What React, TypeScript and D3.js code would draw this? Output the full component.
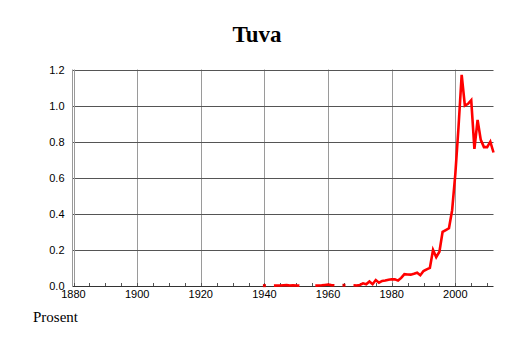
import React from "react";
import * as d3 from "d3";

const title = "Tuva";
const yAxisLabel = "Prosent";

const years: number[] = d3.range(1940, 2013);
const values: (number | null)[] = [
  // 1940-1949
  0.002, null, null, 0.002, 0.003, 0.003, 0.004, 0.005, 0.003, 0.004,
  // 1950-1959
  0.003, 0.002, null, null, null, null, 0.002, 0.003, 0.004, 0.006,
  // 1960-1969
  0.008, 0.005, 0.004, null, null, 0.004, null, null, 0.004, 0.003,
  // 1970-1979
  0.006, 0.015, 0.01, 0.025, 0.01, 0.033, 0.018, 0.028, 0.03, 0.035,
  // 1980-1989
  0.037, 0.037, 0.03, 0.045, 0.066, 0.064, 0.063, 0.068, 0.074, 0.06,
  // 1990-1999
  0.083, 0.092, 0.1, 0.2, 0.16, 0.19, 0.3, 0.31, 0.32, 0.42,
  // 2000-2009
  0.62, 0.88, 1.17, 1.0, 1.01, 1.03, 0.76, 0.92, 0.81, 0.77,
  // 2010-2012
  0.77, 0.8, 0.74,
];

const xTickLabels: number[] = [1880, 1900, 1920, 1940, 1960, 1980, 2000];
const xMinorTicks: number[] = d3.range(1880, 2013, 5);
const yTickValues: number[] = [0, 0.2, 0.4, 0.6, 0.8, 1.0, 1.2];

export default function App() {
  const W = 514;
  const H = 343;
  const left = 73.5;
  const right = 493.5;
  const top = 69.5;
  const bottom = 286;

  const x = d3.scaleLinear().domain([1880, 2012]).range([left, right]);
  const y = d3.scaleLinear().domain([0, 1.2]).range([bottom, top]);

  const data = years.map((yr, i) => ({ yr, v: values[i] }));
  const line = d3
    .line<{ yr: number; v: number | null }>()
    .defined((d) => d.v !== null)
    .x((d) => x(d.yr))
    .y((d) => y(d.v as number));

  const isolated = data.filter((d, i) => {
    if (d.v === null) return false;
    const prev = i > 0 ? data[i - 1].v : null;
    const next = i < data.length - 1 ? data[i + 1].v : null;
    return prev === null && next === null;
  });

  const sans = "'Liberation Sans', Arial, Helvetica, sans-serif";
  const serif = "'Liberation Serif', 'Times New Roman', serif";

  return (
    <svg
      width={W}
      height={H}
      style={{ position: "absolute", left: 0, top: 0 }}
    >
      <rect x={0} y={0} width={W} height={H} fill="#ffffff" />
      <text
        x={257}
        y={41.5}
        textAnchor="middle"
        fontFamily={serif}
        fontWeight="bold"
        fontSize={23}
        fill="#000"
      >
        {title}
      </text>

      {/* vertical gridlines */}
      {xTickLabels.slice(1).map((t) => (
        <line
          key={"vg" + t}
          x1={Math.round(x(t)) + 0.5}
          x2={Math.round(x(t)) + 0.5}
          y1={top}
          y2={bottom}
          stroke="#9a9a9a"
          strokeWidth={1}
        />
      ))}

      {/* horizontal gridlines */}
      {yTickValues.slice(1).map((t) => (
        <line
          key={"hg" + t}
          x1={left - 1}
          x2={right}
          y1={Math.round(y(t)) + 0.5}
          y2={Math.round(y(t)) + 0.5}
          stroke="#555555"
          strokeWidth={1}
        />
      ))}

      {/* left axis (double line) */}
      <line x1={72.5} x2={72.5} y1={top} y2={bottom} stroke="#999" strokeWidth={1} />
      <line x1={74.5} x2={74.5} y1={top} y2={bottom} stroke="#999" strokeWidth={1} />

      {/* bottom axis */}
      <line x1={left - 1} x2={right} y1={bottom + 0.5} y2={bottom + 0.5} stroke="#333" strokeWidth={1} />
      {xMinorTicks.map((t) => (
        <line
          key={"mt" + t}
          x1={Math.round(x(t)) + 0.5}
          x2={Math.round(x(t)) + 0.5}
          y1={bottom - 3}
          y2={bottom}
          stroke="#555"
          strokeWidth={1}
        />
      ))}

      {/* y tick labels */}
      {yTickValues.map((t) => (
        <text
          key={"yl" + t}
          x={64.5}
          y={y(t) + 4}
          textAnchor="end"
          fontFamily={sans}
          fontSize={11}
          fill="#000"
        >
          {t.toFixed(1)}
        </text>
      ))}

      {/* x tick labels */}
      {xTickLabels.map((t) => (
        <text
          key={"xl" + t}
          x={x(t)}
          y={298}
          textAnchor="middle"
          fontFamily={sans}
          fontSize={11}
          fill="#000"
        >
          {t}
        </text>
      ))}

      {/* data line */}
      <path
        d={line(data) || ""}
        fill="none"
        stroke="#ff0000"
        strokeWidth={2.6}
        strokeLinejoin="miter"
      />
      {isolated.map((d) => (
        <rect
          key={"iso" + d.yr}
          x={x(d.yr) - 1.5}
          y={y(d.v as number) - 1.5}
          width={3}
          height={3}
          fill="#dd0000"
        />
      ))}

      <text x={33} y={322} fontFamily={serif} fontSize={15} fill="#000">
        {yAxisLabel}
      </text>
    </svg>
  );
}
